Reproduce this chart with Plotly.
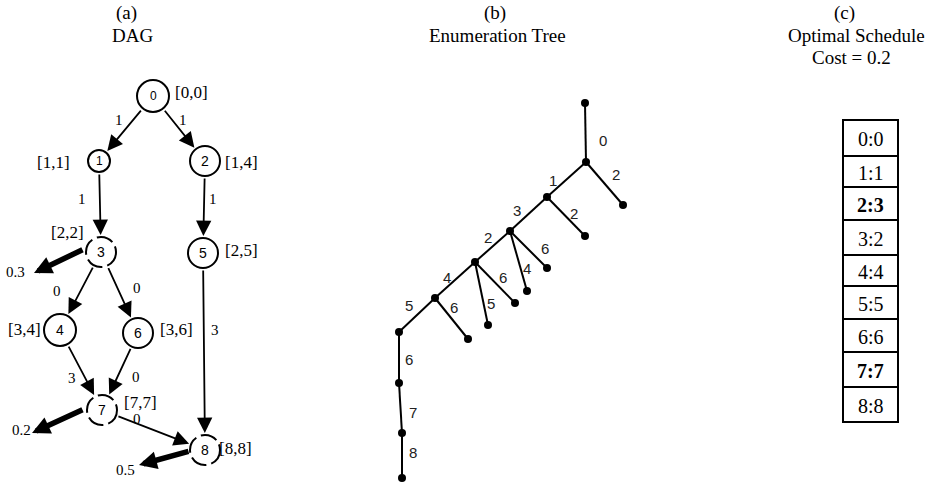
import math
import plotly.graph_objects as go

W, H = 933, 482
SERIF = "Liberation Serif, Times New Roman, serif"
SANS = "Liberation Sans, Arial, sans-serif"

# ---------------- data ----------------
panel_titles = [["(a)", "DAG"], ["(b)", "Enumeration Tree"], ["(c)", "Optimal Schedule", "Cost = 0.2"]]

dag_ids = ["0", "1", "2", "3", "4", "5", "6", "7", "8"]
dag_intervals = ["[0,0]", "[1,1]", "[1,4]", "[2,2]", "[3,4]", "[2,5]", "[3,6]", "[7,7]", "[8,8]"]
dag_edges = [(0, 1), (0, 2), (1, 3), (2, 5), (3, 4), (3, 6), (5, 8), (4, 7), (6, 7), (7, 8)]
dag_weights = ["1", "1", "1", "1", "0", "0", "3", "3", "0", "0"]
dag_dashed = [3, 7, 8]
exit_nodes = [3, 7, 8]
exit_costs = ["0.3", "0.2", "0.5"]

tree_edges = [(0, 1), (1, 2), (1, 3), (3, 4), (3, 5), (5, 6), (5, 7), (5, 8),
              (8, 9), (8, 10), (8, 11), (11, 12), (11, 13), (13, 14), (14, 15), (15, 16)]
tree_labels = ["0", "2", "1", "2", "3", "6", "4", "2", "6", "5", "4", "6", "5", "6", "7", "8"]

schedule = ["0:0", "1:1", "2:3", "3:2", "4:4", "5:5", "6:6", "7:7", "8:8"]
schedule_bold = [2, 7]

# ---------------- layout (pixel positions) ----------------
title_pos = [[(126, 13), (132, 35)],
             [(495, 13), (497, 35)],
             [(844, 13), (856, 35), (851, 57)]]

node_xy = [(153, 96), (99, 161), (205, 161), (101, 252), (60, 330),
           (203, 253), (138, 333), (102, 410), (205, 450)]
node_r = [16, 11, 15, 15, 16, 15, 15, 15, 15]
node_font = [12, 12, 14, 14, 14, 14, 14, 14, 14]
interval_xy = [(191, 92), (53, 162), (241, 162), (67, 232), (24, 329),
               (241, 250), (176, 329), (140, 402), (235, 448)]
weight_xy = [(119, 120), (183, 120), (82, 199), (213, 199), (57, 291),
             (137, 288), (215, 330), (72, 378), (136, 377), (137, 419)]
exit_tail = [(84, 249), (84, 409), (190, 451)]
exit_tip = [(34, 273), (32, 433), (139, 465)]
exit_label_xy = [(15, 272), (21, 430), (125, 470)]

tree_xy = [(585, 103), (586, 162), (623, 205), (547, 197), (585, 236), (510, 231),
           (547, 268), (527, 291), (475, 262), (515, 303), (488, 325), (435, 298),
           (468, 339), (399, 332), (399, 383), (402, 433), (402, 478)]
tree_label_xy = [(603, 140), (616, 174), (553, 180), (574, 213), (517, 210), (545, 248),
                 (527, 268), (488, 237), (503, 277), (491, 303), (447, 277), (454, 307),
                 (409, 305), (409, 359), (413, 412), (413, 452)]

table_x0, table_x1 = 843, 898
row_edges = [120, 156, 187, 220, 255, 286, 319, 352, 387, 422]

# ---------------- figure ----------------
fig = go.Figure()
shapes = []
annotations = []

# titles
for lines, poss in zip(panel_titles, title_pos):
    for t, (tx, ty) in zip(lines, poss):
        annotations.append(dict(x=tx, y=ty, text=t, showarrow=False,
                                font=dict(family=SERIF, size=19, color="black")))

# DAG edges (thin arrows)
for (a, b), w, wxy in zip(dag_edges, dag_weights, weight_xy):
    (x1, y1), (x2, y2) = node_xy[a], node_xy[b]
    dx, dy = x2 - x1, y2 - y1
    L = math.hypot(dx, dy)
    ux, uy = dx / L, dy / L
    tail = (x1 + ux * (node_r[a] + 1), y1 + uy * (node_r[a] + 1))
    tip = (x2 - ux * (node_r[b] + 2), y2 - uy * (node_r[b] + 2))
    annotations.append(dict(x=tip[0], y=tip[1], ax=tail[0], ay=tail[1],
                            xref="x", yref="y", axref="x", ayref="y",
                            text="", showarrow=True, arrowhead=2, arrowsize=1.7,
                            arrowwidth=1.8, arrowcolor="black", standoff=0))
    annotations.append(dict(x=wxy[0], y=wxy[1], text=w, showarrow=False,
                            font=dict(family=SERIF, size=15, color="black")))

# exit arrows (thick)
for tail, tip, c, lxy in zip(exit_tail, exit_tip, exit_costs, exit_label_xy):
    annotations.append(dict(x=tip[0], y=tip[1], ax=tail[0], ay=tail[1],
                            xref="x", yref="y", axref="x", ayref="y",
                            text="", showarrow=True, arrowhead=2, arrowsize=0.65,
                            arrowwidth=5.5, arrowcolor="black", standoff=0))
    annotations.append(dict(x=lxy[0], y=lxy[1], text=c, showarrow=False,
                            font=dict(family=SERIF, size=15, color="black")))

# DAG nodes
for i, ((cx, cy), r) in enumerate(zip(node_xy, node_r)):
    shapes.append(dict(type="circle", xref="x", yref="y",
                       x0=cx - r, x1=cx + r, y0=cy - r, y1=cy + r,
                       fillcolor="white",
                       line=dict(color="black", width=2,
                                 dash="17px,5px" if i in dag_dashed else "solid"),
                       layer="above"))
for i, (cx, cy) in enumerate(node_xy):
    annotations.append(dict(x=cx, y=cy, text=dag_ids[i], showarrow=False,
                            font=dict(family=SANS, size=node_font[i], color="black")))
    annotations.append(dict(x=interval_xy[i][0], y=interval_xy[i][1], text=dag_intervals[i],
                            showarrow=False, font=dict(family=SERIF, size=17, color="black")))

# Enumeration tree
ex, ey = [], []
for a, b in tree_edges:
    ex += [tree_xy[a][0], tree_xy[b][0], None]
    ey += [tree_xy[a][1], tree_xy[b][1], None]
fig.add_trace(go.Scatter(x=ex, y=ey, mode="lines", line=dict(color="black", width=2),
                         hoverinfo="skip", showlegend=False))
fig.add_trace(go.Scatter(x=[p[0] for p in tree_xy], y=[p[1] for p in tree_xy],
                         mode="markers", marker=dict(color="black", size=8),
                         hoverinfo="skip", showlegend=False))
for lab, (lx, ly) in zip(tree_labels, tree_label_xy):
    annotations.append(dict(x=lx, y=ly, text=lab, showarrow=False,
                            font=dict(family=SANS, size=15, color="#222")))

# Schedule table
for k, s in enumerate(schedule):
    y0, y1 = row_edges[k], row_edges[k + 1]
    shapes.append(dict(type="rect", xref="x", yref="y", x0=table_x0, x1=table_x1,
                       y0=y0, y1=y1, line=dict(color="black", width=2)))
    txt = "<b>%s</b>" % s if k in schedule_bold else s
    annotations.append(dict(x=(table_x0 + table_x1) / 2, y=(y0 + y1) / 2 + 1, text=txt,
                            showarrow=False, font=dict(family=SERIF, size=20, color="black")))

fig.update_layout(
    width=W, height=H, autosize=False,
    margin=dict(l=0, r=0, t=0, b=0),
    paper_bgcolor="white", plot_bgcolor="white",
    xaxis=dict(range=[0, W], visible=False, fixedrange=True),
    yaxis=dict(range=[H, 0], visible=False, fixedrange=True),
    shapes=shapes, annotations=annotations,
)

fig.write_html("out.html", config={"displayModeBar": False},
               post_script="document.body.style.margin='0';document.body.style.overflow='hidden';")
